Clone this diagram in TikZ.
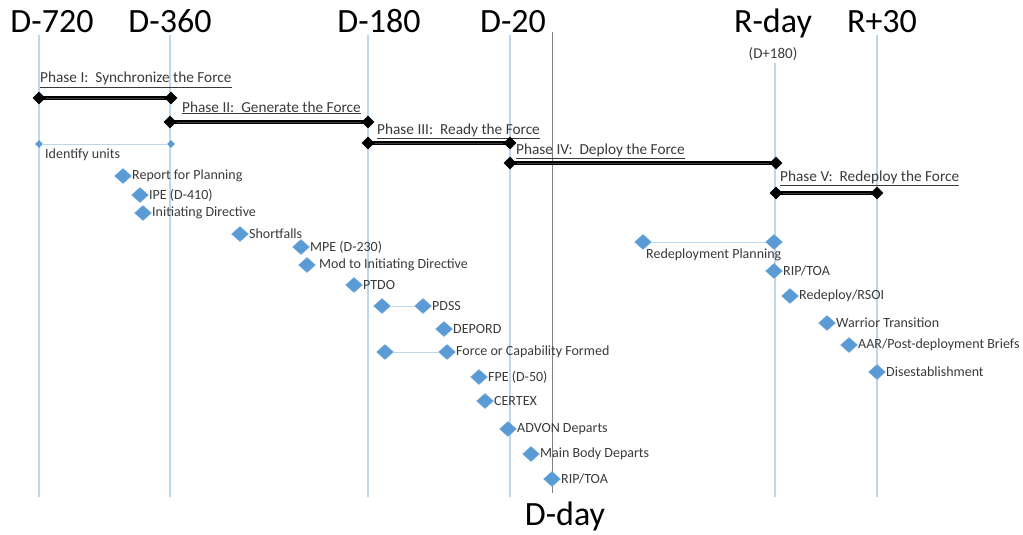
\documentclass[tikz,border=0pt]{standalone}
\usepackage{fontspec}
\setmainfont{Carlito}
\usetikzlibrary{shapes.geometric}
\definecolor{guideblue}{HTML}{BDD7EE}
\definecolor{diamblue}{HTML}{5B9BD5}
\definecolor{txtgrey}{HTML}{3A3A3A}
\definecolor{ddaygrey}{HTML}{808080}
\tikzset{
  guide/.style={draw=guideblue, line width=1.2pt},
  link/.style={draw=guideblue, line width=1pt},
  bd/.style={diamond, fill=diamblue, draw=diamblue!85!white, line width=0.5pt, inner sep=0pt, minimum width=17pt, minimum height=15pt},
  kd/.style={diamond, aspect=1, fill=black, inner sep=0pt, minimum width=13pt, minimum height=13pt},
  sd/.style={diamond, aspect=1, fill=diamblue, inner sep=0pt, minimum width=8pt, minimum height=8pt},
  lbl/.style={font=\fontsize{14}{16}\selectfont, text=txtgrey, anchor=west, inner sep=0pt},
  phlbl/.style={font=\fontsize{15.3}{17}\selectfont, text=txtgrey, anchor=base west, inner sep=0pt},
  big/.style={font=\fontsize{34}{40}\selectfont, text=black, anchor=base, inner sep=0pt},
  bar/.style={draw=black, line width=3.6pt},
  barin/.style={draw=black!75, line width=0.7pt},
}
\begin{document}
\begin{tikzpicture}[x=1pt, y=-1pt]
\useasboundingbox (0,0) rectangle (1023,535);
% timeline top / bottom coordinates
\coordinate (t720) at (39,35);   \coordinate (b720) at (39,497);
\coordinate (t360) at (170,35);  \coordinate (b360) at (170,497);
\coordinate (t180) at (368,35);  \coordinate (b180) at (368,497);
\coordinate (t20) at (510,35);   \coordinate (b20) at (510,497);
\coordinate (tR) at (775,63);    \coordinate (bR) at (775,497);
\coordinate (tR30) at (877,35);  \coordinate (bR30) at (877,497);
\coordinate (tD) at (552,32);    \coordinate (bD) at (552,493);
\draw[guide] (t720) -- (b720);
\draw[guide] (t360) -- (b360);
\draw[guide] (t180) -- (b180);
\draw[guide] (t20) -- (b20);
\draw[guide] (tR) -- (bR);
\draw[guide] (tR30) -- (bR30);
\draw[draw=ddaygrey, line width=0.8pt] (tD) -- (bD);

% big labels
\node[big] (L720) at (52,33) {D-720};
\node[big] (L360) at (170,33) {D-360};
\node[big] (L180) at (379,33) {D-180};
\node[big] (L20) at (513,33) {D-20};
\node[big] (LR) at (773,33) {R-day};
\node[big] (LR30) at (882,33) {R+30};
\node[font=\fontsize{15}{17}\selectfont, text=txtgrey, inner sep=0pt] (LD180) at (773,54) {(D+180)};
\node[big] (Lday) at (565,525) {D-day};

% phases
\node[phlbl] (p1) at (40,83) {\underline{Phase I:\ \ Synchronize the Force}};
\node[kd] (p1a) at (39,98) {};
\node[kd] (p1b) at (171,98) {};
\draw[bar] (p1a.center) -- (p1b.center);
\draw[barin] (p1a) -- (p1b);

\node[phlbl] (p2) at (182,112) {\underline{Phase II:\ \ Generate the Force}};
\node[kd] (p2a) at (170,122) {};
\node[kd] (p2b) at (368,122) {};
\draw[bar] (p2a.center) -- (p2b.center);
\draw[barin] (p2a) -- (p2b);

\node[phlbl] (p3) at (377,134) {\underline{Phase III:\ \ Ready the Force}};
\node[kd] (p3a) at (368,143) {};
\node[kd] (p3b) at (510,143) {};
\draw[bar] (p3a.center) -- (p3b.center);
\draw[barin] (p3a) -- (p3b);

\node[phlbl] (p4) at (516,154) {\underline{Phase IV:\ \ Deploy the Force}};
\node[kd] (p4a) at (510,163) {};
\node[kd] (p4b) at (776,163) {};
\draw[bar] (p4a.center) -- (p4b.center);
\draw[barin] (p4a) -- (p4b);

\node[phlbl] (p5) at (780,181) {\underline{Phase V:\ \ Redeploy the Force}};
\node[kd] (p5a) at (776,193) {};
\node[kd] (p5b) at (877,193) {};
\draw[bar] (p5a.center) -- (p5b.center);
\draw[barin] (p5a) -- (p5b);

% identify units
\node[sd] (iu1) at (39,144) {};
\node[sd] (iu2) at (171,144) {};
\draw[link, line width=0.8pt] (iu1) -- (iu2);
\node[lbl] (iut) at (45,155) {Identify units};

% events
\node[bd] (e1) at (123,176) {};  \node[lbl] at (132,176) {Report for Planning};
\node[bd] (e2) at (140,195) {};  \node[lbl] at (149,195) {IPE (D-410)};
\node[bd] (e3) at (143,213) {};  \node[lbl] at (152,213) {Initiating Directive};
\node[bd] (e4) at (240,234) {};  \node[lbl] at (249,234) {Shortfalls};
\node[bd] (e5) at (301,247) {};  \node[lbl] at (310,247) {MPE (D-230)};
\node[bd] (e6) at (307,265) {};  \node[lbl] at (319,265) {Mod to Initiating Directive};
\node[bd] (e7) at (354,285) {};  \node[lbl] at (363,285) {PTDO};
\node[bd] (e8a) at (382,306) {};
\node[bd] (e8b) at (423,306) {};  \node[lbl] at (432,306) {PDSS};
\draw[link] (e8a) -- (e8b);
\node[bd] (e9) at (444,329) {};  \node[lbl] at (453,329) {DEPORD};
\node[bd] (e10a) at (385,352) {};
\node[bd] (e10b) at (447,352) {};  \node[lbl] at (456,352) {Force or Capability Formed};
\draw[link] (e10a) -- (e10b);
\node[bd] (e11) at (479,377) {};  \node[lbl] at (488,377) {FPE (D-50)};
\node[bd] (e12) at (485,401) {};  \node[lbl] at (494,401) {CERTEX};
\node[bd] (e13) at (508,429) {};  \node[lbl] at (517,429) {ADVON Departs};
\node[bd] (e14) at (531,454) {};  \node[lbl] at (540,454) {Main Body Departs};
\node[bd] (e15) at (552,479) {};  \node[lbl] at (561,479) {RIP/TOA};

\node[bd] (r1a) at (643,242) {};
\node[bd] (r1b) at (774,242) {};
\draw[link] (r1a) -- (r1b);
\node[lbl] at (646,255) {Redeployment Planning};
\node[bd] (r2) at (774,271) {};  \node[lbl] at (783,271) {RIP/TOA};
\node[bd] (r3) at (790,296) {};  \node[lbl] at (799,296) {Redeploy/RSOI};
\node[bd] (r4) at (827,323) {};  \node[lbl] at (836,323) {Warrior Transition};
\node[bd] (r5) at (849,345) {};  \node[lbl] at (858,345) {AAR/Post-deployment Briefs};
\node[bd] (r6) at (877,372) {};  \node[lbl] at (886,372) {Disestablishment};
\end{tikzpicture}
\end{document}
